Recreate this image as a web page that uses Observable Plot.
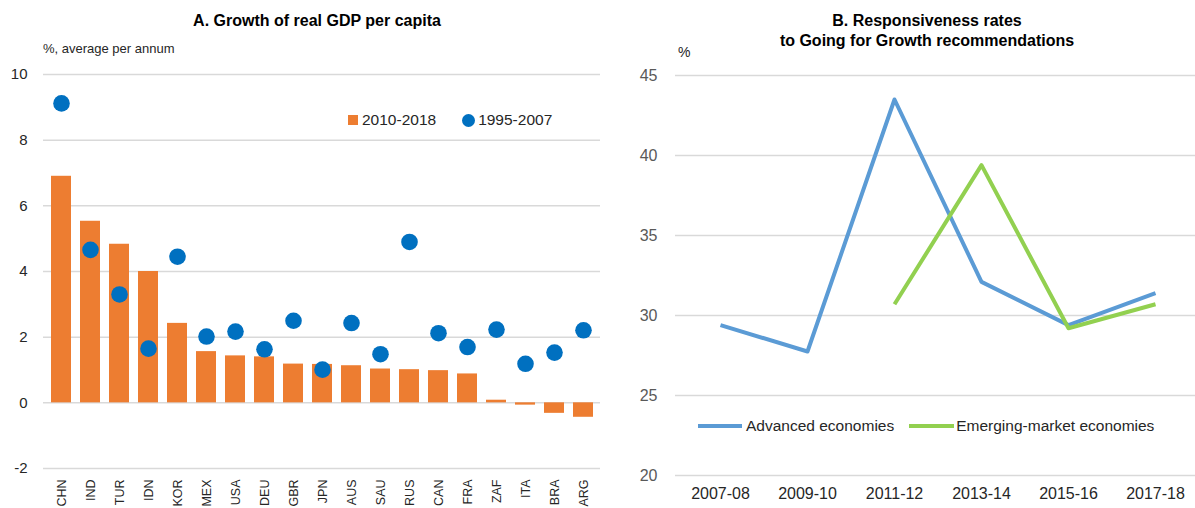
<!DOCTYPE html>
<html>
<head>
<meta charset="utf-8">
<script src="https://cdn.jsdelivr.net/npm/d3@7"></script>
<script src="https://cdn.jsdelivr.net/npm/@observablehq/plot@0.6"></script>
<style>
  html, body { margin: 0; padding: 0; background: #fff; overflow: hidden; }
  #root { position: relative; width: 1195px; height: 508px; overflow: hidden;
          font-family: "Liberation Sans", Arial, sans-serif; color: #262626; }
  .abs { position: absolute; white-space: nowrap; }
  .title { font-weight: bold; font-size: 16px; color: #000; text-align: center; }
  .leg { display: flex; align-items: center; font-size: 15.5px; color: #262626; height: 20px; }
</style>
</head>
<body>
<div id="root">
  <div class="abs title" style="left:117px;width:400px;top:13px;line-height:16px;">A. Growth of real GDP per capita</div>
  <div class="abs" style="left:43px;top:42px;font-size:13px;line-height:13px;color:#262626;">%, average per annum</div>
  <div class="abs title" style="left:727px;width:400px;top:11px;line-height:20px;">B. Responsiveness rates<br>to Going for Growth recommendations</div>
  <div class="abs" style="left:678px;top:45px;font-size:14px;line-height:14px;color:#262626;">%</div>

  <div id="left" class="abs" style="left:0;top:60px;"></div>
  <div id="right" class="abs" style="left:600px;top:60px;"></div>

  <div class="abs leg" style="left:348px;top:110px;">
    <span style="display:inline-block;width:10px;height:10px;background:#ED7D31;margin-right:4px;"></span>
    <span>2010-2018</span>
    <span style="display:inline-block;width:13px;height:13px;border-radius:50%;background:#0070C0;margin-left:26px;margin-right:3px;"></span>
    <span>1995-2007</span>
  </div>
  <div class="abs leg" style="left:698px;top:416px;">
    <span style="display:inline-block;width:44px;height:4px;background:#5B9BD5;margin-right:4px;"></span>
    <span>Advanced economies</span>
    <span style="display:inline-block;width:45px;height:4px;background:#92D050;margin-left:15px;margin-right:2px;"></span>
    <span>Emerging-market economies</span>
  </div>
</div>
<script>
// ---- Panel A data ----
const countries = ["CHN","IND","TUR","IDN","KOR","MEX","USA","DEU","GBR","JPN","AUS","SAU","RUS","CAN","FRA","ZAF","ITA","BRA","ARG"];
const growth2010_2018 = [6.9, 5.53, 4.83, 4.0, 2.42, 1.56, 1.43, 1.40, 1.18, 1.17, 1.13, 1.03, 1.01, 0.98, 0.88, 0.08, -0.07, -0.32, -0.44];
const growth1995_2007 = [9.12, 4.66, 3.3, 1.65, 4.45, 2.02, 2.17, 1.63, 2.5, 1.01, 2.43, 1.48, 4.9, 2.12, 1.7, 2.23, 1.19, 1.53, 2.21];
const yTicksA = [-2, 0, 2, 4, 6, 8, 10];

// ---- Panel B data ----
const periods = ["2007-08","2009-10","2011-12","2013-14","2015-16","2017-18"];
const advanced = [29.4, 27.75, 43.5, 32.1, 29.4, 31.4];
const emerging = [null, null, 30.7, 39.4, 29.2, 30.7];
const yTicksB = [20, 25, 30, 35, 40, 45];

const tableA = countries.map((c, i) => ({country: c, recent: growth2010_2018[i], past: growth1995_2007[i]}));
const tableB = [];
periods.forEach((p, i) => {
  tableB.push({period: p, series: "Advanced economies", value: advanced[i]});
  if (emerging[i] != null) tableB.push({period: p, series: "Emerging-market economies", value: emerging[i]});
});

const font = '"Liberation Sans", Arial, sans-serif';

const plotA = Plot.plot({
  width: 600,
  height: 448,
  marginLeft: 43,
  marginRight: 0,
  marginTop: 14,
  marginBottom: 40,
  style: {fontFamily: font, background: "transparent", overflow: "visible"},
  x: {type: "band", domain: countries, paddingInner: 0.32, paddingOuter: 0.16, label: null},
  y: {domain: [-2, 10], label: null},
  marks: [
    Plot.ruleY(yTicksA, {stroke: "#d9d9d9", strokeWidth: 1.5}),
    Plot.barY(tableA, {x: "country", y: "recent", fill: "#ED7D31"}),
    Plot.dot(tableA, {x: "country", y: "past", r: 8.3, fill: "#0070C0", stroke: "none"}),
    Plot.axisY({ticks: yTicksA, tickFormat: d => String(d), tickSize: 0, tickPadding: 16, fontSize: 15, color: "#262626", label: null}),
    Plot.axisX({tickSize: 0, tickPadding: 11, tickRotate: -90, fontSize: 12.5, color: "#262626", label: null})
  ]
});
document.getElementById("left").appendChild(plotA);

const plotB = Plot.plot({
  width: 595,
  height: 448,
  marginLeft: 75,
  marginRight: 0,
  marginTop: 15,
  marginBottom: 33,
  style: {fontFamily: font, background: "transparent", overflow: "visible"},
  x: {type: "point", domain: periods, range: [118, 557], padding: 0, label: null},
  y: {domain: [20, 45], label: null},
  color: {domain: ["Advanced economies", "Emerging-market economies"], range: ["#5B9BD5", "#92D050"]},
  marks: [
    Plot.ruleY(yTicksB, {stroke: "#d9d9d9", strokeWidth: 1.5}),
    Plot.line(tableB, {x: "period", y: "value", z: "series", stroke: "series", strokeWidth: 4, strokeLinejoin: "round", strokeLinecap: "butt"}),
    Plot.axisY({ticks: yTicksB, tickFormat: d => String(d), tickSize: 0, tickPadding: 18, fontSize: 16, color: "#595959", label: null}),
    Plot.axisX({tickSize: 0, tickPadding: 12, fontSize: 16, color: "#262626", label: null})
  ]
});
document.getElementById("right").appendChild(plotB);
</script>
</body>
</html>
